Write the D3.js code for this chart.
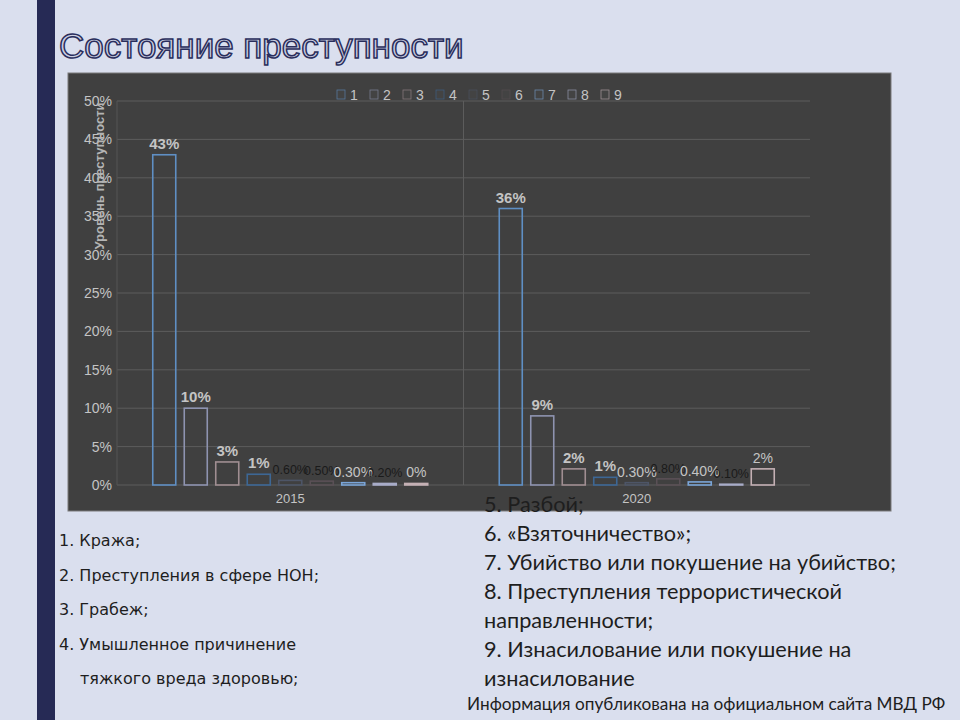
<!DOCTYPE html>
<meta charset="utf-8">
<style>
  body { margin: 0; background: #dadfee; }
  svg { display: block; }
  .tick-label, .cat-label, .legend-text { font-family: 'Liberation Sans', Arial, sans-serif; fill: #c4c4c4; }
  .list-left { font-family: 'DejaVu Sans', sans-serif; font-size: 16px; fill: #1e1e1e; }
  .list-right { font-family: Lato, 'Noto Sans', sans-serif; font-size: 21.7px; fill: #1e1e1e; }
</style>
<script src="https://cdnjs.cloudflare.com/ajax/libs/d3/7.8.5/d3.min.js"></script>
<svg width="960" height="720"></svg>
<script>
  var years = ["2015", "2020"];
  var series = ["1", "2", "3", "4", "5", "6", "7", "8", "9"];
  var values2015 = [43, 10, 3, 1.4, 0.6, 0.5, 0.3, 0.2, 0.2];
  var values2020 = [36, 9, 2.1, 1, 0.3, 0.8, 0.4, 0.1, 2.1];
  var labels2015 = ["43%", "10%", "3%", "1%", "0.60%", "0.50%", "0.30%", "0.20%", "0%"];
  var labels2020 = ["36%", "9%", "2%", "1%", "0.30%", "0.80%", "0.40%", "0.10%", "2%"];
  var yTicks = [0, 5, 10, 15, 20, 25, 30, 35, 40, 45, 50];
  var leftList = ["1. Кража;", "2. Преступления в сфере НОН;", "3. Грабеж;", "4. Умышленное причинение", "тяжкого вреда здоровью;"];
  var rightList = ["5. Разбой;", "6. «Взяточничество»;", "7. Убийство или покушение на убийство;",
    "8. Преступления террористической", "направленности;", "9. Изнасилование или покушение на", "изнасилование"];

  // label look per bar (b = bold light, d = small dark, m = plain light)
  var labelKind = [["b","b","b","b","d","d","m","d","m"], ["b","b","b","b","m","d","m","d","m"]];
  var colors = ["#5f8fc4", "#8e93b0", "#a08e92", "#3d6795", "#4d5567", "#5a5056", "#7aa5d8", "#a8acc8", "#c4b0b4"];

  var svg = d3.select("svg");

  // left navy strip
  svg.append("rect").attr("x", 37).attr("y", 0).attr("width", 18).attr("height", 720).attr("fill", "#262a55");

  // title
  svg.append("text").attr("x", 59).attr("y", 58)
    .style("font-family", "'Liberation Sans', Arial, sans-serif").style("font-size", "35px")
    .attr("fill", "#cdd1e4").attr("stroke", "#2a2e5c").attr("stroke-width", 1.5)
    .text("Состояние преступности");

  // chart panel
  svg.append("rect").attr("x", 68).attr("y", 73).attr("width", 823).attr("height", 438)
    .attr("fill", "#404040").attr("stroke", "#7a7a7a").attr("stroke-width", 1);

  var x0 = d3.scaleBand().domain(years).range([117, 810]);
  var x1 = d3.scaleBand().domain(series).range([0, x0.bandwidth()]).paddingInner(0.27).paddingOuter(1.135);
  var y = d3.scaleLinear().domain([0, 50]).range([485, 101]);

  var g = svg.append("g");

  // gridlines
  g.selectAll(".grid").data(yTicks).enter().append("line")
    .attr("x1", 117).attr("x2", 810)
    .attr("y1", function(d) { return y(d); }).attr("y2", function(d) { return y(d); })
    .attr("stroke", "#5c5c5c").attr("stroke-width", 1);
  // vertical lines
  g.append("line").attr("x1", 117).attr("x2", 117).attr("y1", y(50)).attr("y2", y(0)).attr("stroke", "#555");
  g.append("line").attr("x1", x0("2020")).attr("x2", x0("2020")).attr("y1", y(50)).attr("y2", y(0)).attr("stroke", "#5c5c5c");

  // y tick labels
  g.selectAll(".tick-label").data(yTicks).enter().append("text")
    .attr("class", "tick-label")
    .attr("x", 112).attr("y", function(d) { return y(d) + 5; })
    .attr("text-anchor", "end").style("font-size", "14px")
    .text(function(d) { return d + "%"; });

  // y axis title
  g.append("text").attr("transform", "translate(104,176) rotate(-90)")
    .attr("text-anchor", "middle")
    .style("font-family", "'Liberation Sans', Arial, sans-serif").style("font-size", "13px")
    .style("font-weight", "bold").attr("fill", "#b4b4b4")
    .text("Уровень преступности");

  // category labels
  g.selectAll(".cat-label").data(years).enter().append("text")
    .attr("class", "cat-label")
    .attr("x", function(d) { return x0(d) + x0.bandwidth() / 2; }).attr("y", 503)
    .attr("text-anchor", "middle").style("font-size", "13px")
    .text(function(d) { return d; });

  var rows = [
    { year: "2015", vals: values2015, labels: labels2015, kinds: labelKind[0] },
    { year: "2020", vals: values2020, labels: labels2020, kinds: labelKind[1] }
  ];

  rows.forEach(function(r) {
    var grp = g.append("g").attr("transform", "translate(" + x0(r.year) + ",0)");
    grp.selectAll("rect").data(r.vals).enter().append("rect")
      .attr("x", function(d, i) { return x1(series[i]); })
      .attr("y", function(d) { return y(d); })
      .attr("width", x1.bandwidth())
      .attr("height", function(d) { return y(0) - y(d); })
      .attr("fill", "none")
      .attr("stroke", function(d, i) { return colors[i]; })
      .attr("stroke-width", 1.6);
    grp.selectAll("text").data(r.vals).enter().append("text")
      .attr("x", function(d, i) { return x1(series[i]) + x1.bandwidth() / 2; })
      .attr("y", function(d) { return y(d) - 6; })
      .attr("text-anchor", "middle")
      .style("font-family", "'Liberation Sans', Arial, sans-serif")
      .style("font-size", function(d, i) { return r.kinds[i] == "b" ? "15px" : r.kinds[i] == "d" ? "12.5px" : "14px"; })
      .style("font-weight", function(d, i) { return r.kinds[i] == "b" ? "bold" : "normal"; })
      .attr("fill", function(d, i) { return r.kinds[i] == "d" ? "#1a1a1a" : "#c4c4c4"; })
      .text(function(d, i) { return r.labels[i]; });
  });

  // legend
  var leg = g.selectAll(".legend").data(series).enter().append("g")
    .attr("transform", function(d, i) { return "translate(" + (337 + i * 33) + ",90)"; });
  leg.append("rect").attr("width", 8).attr("height", 9)
    .attr("fill", "#454545").attr("stroke", function(d, i) { return colors[i]; }).attr("stroke-width", 0.8)
    .attr("opacity", 0.7);
  leg.append("text").attr("class", "legend-text").attr("x", 13).attr("y", 10)
    .style("font-size", "14px").text(function(d) { return d; });

  // lists
  svg.selectAll(".list-left").data(leftList).enter().append("text")
    .attr("class", "list-left")
    .attr("x", function(d, i) { return i == 4 ? 80 : 59; })
    .attr("y", function(d, i) { return 546 + i * 34.5; })
    .text(function(d) { return d; });

  svg.selectAll(".list-right").data(rightList).enter().append("text")
    .attr("class", "list-right")
    .attr("x", 484)
    .attr("y", function(d, i) { return 512 + i * 29; })
    .text(function(d) { return d; });

  svg.append("text").attr("x", 467).attr("y", 710)
    .style("font-family", "Lato, 'Noto Sans', sans-serif").style("font-size", "17.2px").attr("fill", "#1e1e1e")
    .text("Информация опубликована на официальном сайта МВД РФ");
</script>
